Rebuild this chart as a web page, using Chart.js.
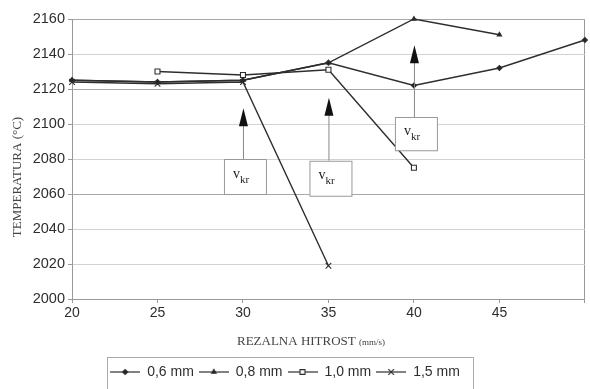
<!DOCTYPE html>
<html>
<head>
<meta charset="utf-8">
<script src="https://cdn.jsdelivr.net/npm/chart.js@4.4.1/dist/chart.umd.min.js"></script>
<style>
  html, body { margin: 0; padding: 0; background: #fff; }
  #wrap { width: 590px; height: 389px; }
</style>
</head>
<body>
<div id="wrap"><canvas id="chart" width="590" height="389"></canvas></div>
<script>
// cutting speed (mm/s) and measured temperature per sheet thickness
const speeds = [20, 25, 30, 35, 40, 45, 50];
const temp06 = [2125, 2124, 2125, 2135, 2122, 2132, 2148];
const temp08 = [2125, 2124, 2125, 2135, 2160, 2151, null];
const temp10 = [null, 2130, 2128, 2131, 2075, null, null];
const temp15 = [2124, 2123, 2124, 2019, null, null, null];
const seriesNames = ['0,6 mm', '0,8 mm', '1,0 mm', '1,5 mm'];
const xTickLabels = ['20', '25', '30', '35', '40', '45', ''];
const yTickValues = [2000, 2020, 2040, 2060, 2080, 2100, 2120, 2140, 2160];

// critical speed marks: speed, arrow tip and label box (in °C)
const vkrSpeeds = [30, 35, 40];
const vkrTips = [2109, 2115, 2145];
const vkrBoxTops = [2080, 2079, 2104];
const vkrBoxBottoms = [2060, 2059, 2085];

const SANS = '"Liberation Sans", Arial, sans-serif';
const SERIF = '"Liberation Serif", "Times New Roman", serif';
const INK = '#2e2e2e';

const markers = [
  { pointStyle: 'rectRot', radius: 2.5, fill: '#222' },
  { pointStyle: 'triangle', radius: 2.5, fill: '#222' },
  { pointStyle: 'rect', radius: 3.5, fill: '#fff' },
  { pointStyle: 'crossRot', radius: 4, fill: '#222' }
];

function legendIcon(m) {
  const c = document.createElement('canvas');
  c.width = 30; c.height = 12;
  const g = c.getContext('2d');
  g.strokeStyle = INK; g.lineWidth = 1.2;
  g.beginPath(); g.moveTo(0, 6); g.lineTo(30, 6); g.stroke();
  g.fillStyle = m.fill; g.strokeStyle = INK;
  Chart.helpers.drawPoint(g, { pointStyle: m.pointStyle, radius: m.radius, borderWidth: 1.1, rotation: 0 }, 15, 6);
  return c;
}

const series = [temp06, temp08, temp10, temp15];
const datasets = series.map((vals, i) => ({
  label: seriesNames[i],
  data: speeds.map((s, j) => ({ x: s, y: vals[j] })),
  borderColor: INK,
  borderWidth: 1.4,
  tension: 0,
  clip: 4,
  pointStyle: markers[i].pointStyle,
  pointRadius: markers[i].radius,
  pointBackgroundColor: markers[i].fill,
  pointBorderColor: INK,
  pointBorderWidth: 1.1
}));

const extras = {
  id: 'extras',
  afterLayout(chart) {
    // legend sits a little left of centre in the original
    chart.legend.left -= 9;
    chart.legend.right -= 9;
  },
  afterDatasetsDraw(chart) {
    const { ctx, scales: { x, y } } = chart;
    ctx.save();
    vkrSpeeds.forEach((s, i) => {
      const cx = x.getPixelForValue(s);
      const tip = y.getPixelForValue(vkrTips[i]);
      const top = y.getPixelForValue(vkrBoxTops[i]);
      const bot = y.getPixelForValue(vkrBoxBottoms[i]);
      const bx = cx - 19;
      // arrow stem
      ctx.strokeStyle = '#888'; ctx.lineWidth = 1;
      ctx.beginPath(); ctx.moveTo(cx + 0.5, tip + 16); ctx.lineTo(cx + 0.5, top); ctx.stroke();
      // arrow head
      ctx.fillStyle = '#111';
      ctx.beginPath(); ctx.moveTo(cx + 0.5, tip); ctx.lineTo(cx + 5, tip + 18); ctx.lineTo(cx - 4, tip + 18); ctx.closePath(); ctx.fill();
      // label box
      ctx.fillStyle = '#fff'; ctx.fillRect(bx, top, 42, bot - top);
      ctx.strokeStyle = '#999'; ctx.strokeRect(bx + 0.5, top + 0.5, 42, bot - top);
      ctx.fillStyle = '#222'; ctx.textBaseline = 'alphabetic'; ctx.textAlign = 'left';
      const mid = (top + bot) / 2;
      ctx.font = '14px ' + SERIF; ctx.fillText('v', bx + 9, mid + 1);
      ctx.font = '11px ' + SERIF; ctx.fillText('kr', bx + 16, mid + 6);
    });
    ctx.restore();
  },
  afterDraw(chart) {
    const { ctx } = chart;
    ctx.save();
    ctx.fillStyle = '#444';
    // y title
    ctx.translate(18, 177); ctx.rotate(-Math.PI / 2);
    ctx.font = '13px ' + SERIF; ctx.textAlign = 'center'; ctx.textBaseline = 'middle';
    ctx.fillText('TEMPERATURA (°C)', 0, 0);
    ctx.setTransform(1, 0, 0, 1, 0, 0);
    // x title with smaller unit
    const a = 'REZALNA HITROST ', b = '(mm/s)';
    ctx.textAlign = 'left'; ctx.textBaseline = 'alphabetic';
    ctx.font = '13px ' + SERIF; const wa = ctx.measureText(a).width;
    ctx.font = '9px ' + SERIF; const wb = ctx.measureText(b).width;
    const sx = 311 - (wa + wb) / 2;
    ctx.font = '13px ' + SERIF; ctx.fillText(a, sx, 345);
    ctx.font = '9px ' + SERIF; ctx.fillText(b, sx + wa, 345);
    // legend frame
    ctx.strokeStyle = '#aaa'; ctx.lineWidth = 1;
    ctx.strokeRect(107.5, 357.5, 366, 40);
    ctx.restore();
  }
};

const majorGrid = [2000, 2060, 2120, 2160];

new Chart(document.getElementById('chart'), {
  type: 'line',
  data: { datasets },
  options: {
    responsive: false,
    animation: false,
    layout: { padding: { top: 19, right: 2, left: 0, bottom: 0 } },
    plugins: {
      tooltip: { enabled: false },
      legend: {
        position: 'bottom',
        labels: {
          usePointStyle: true,
          pointStyleWidth: 30,
          padding: 5,
          color: INK,
          font: { family: SANS, size: 14 },
          generateLabels: (chart) => chart.data.datasets.map((d, i) => ({
            text: d.label,
            pointStyle: legendIcon(markers[i]),
            fillStyle: '#fff', strokeStyle: INK, lineWidth: 0,
            fontColor: INK, hidden: false, datasetIndex: i
          }))
        }
      }
    },
    scales: {
      x: {
        type: 'linear', min: 20, max: 50,
        afterFit: (s) => { s.height = 61; },
        afterBuildTicks: (s) => { s.ticks = speeds.map((v) => ({ value: v })); },
        ticks: {
          color: INK, font: { family: SANS, size: 14 }, padding: 2, maxRotation: 0,
          callback: (v) => xTickLabels[speeds.indexOf(v)]
        },
        grid: {
          drawOnChartArea: true, tickLength: 4,
          color: (c) => (c.tick && c.tick.value === 50 ? '#999' : 'rgba(0,0,0,0)'),
          tickColor: '#999'
        },
        border: { color: '#999' }
      },
      y: {
        min: 2000, max: 2160,
        afterFit: (s) => { s.width = 72; },
        afterBuildTicks: (s) => { s.ticks = yTickValues.map((v) => ({ value: v })); },
        ticks: {
          color: INK, font: { family: SANS, size: 14.5 }, padding: 3,
          callback: (v) => String(v)
        },
        grid: {
          tickLength: 4, tickColor: '#999',
          color: (c) => (c.tick && majorGrid.includes(c.tick.value) ? '#a8a8a8' : '#d2d2d2')
        },
        border: { color: '#999' }
      }
    }
  },
  plugins: [extras]
});
</script>
</body>
</html>
